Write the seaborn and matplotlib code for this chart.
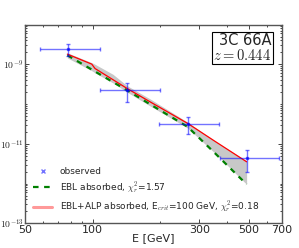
import numpy as np
import pandas as pd
import matplotlib
matplotlib.use("Agg")
from matplotlib import pyplot as plt
from matplotlib.lines import Line2D
import seaborn as sns

# punti osservati (E in GeV, flusso)
e_obs = [77.4, 142.9, 266.0, 488.0]
e_lo = [58.2, 108.0, 198.6, 371.0]
e_hi = [108.0, 200.0, 368.0, 682.0]
f_obs = [2.36e-9, 2.23e-10, 3.13e-11, 4.45e-12]
f_lo = [1.60e-9, 1.14e-10, 1.72e-11, 1.94e-12]
f_hi = [3.20e-9, 3.30e-10, 4.60e-11, 6.95e-12]

# modelli
e_mod = [77.1, 99.1, 102.5, 123.3, 142.5, 180.5, 266.0, 352.0, 488.0]
f_alp = [1.80e-9, 1.01e-9, 7.83e-10, 4.10e-10, 2.47e-10, 1.14e-10, 3.26e-11, 1.16e-11, 3.53e-12]
f_ebl = [1.69e-9, 7.36e-10, 6.59e-10, 3.57e-10, 2.23e-10, 9.9e-11, 2.67e-11, 5.83e-12, 9.55e-13]
band_up = [1.95e-9, 1.10e-9, 1.0e-9, 5.6e-10, 2.9e-10, 1.35e-10, 3.5e-11, 1.17e-11, 3.7e-12]
band_lo = [1.45e-9, 6.9e-10, 6.1e-10, 3.4e-10, 2.0e-10, 9.0e-11, 2.5e-11, 5.83e-12, 9.55e-13]

sns.set_style("ticks")
plt.rcParams["mathtext.fontset"] = "cm"
plt.rcParams["font.family"] = ["DejaVu Sans"]

df = pd.DataFrame({"E": e_mod, "alp": f_alp, "ebl": f_ebl})

fig = plt.figure(figsize=(2.99, 2.48), dpi=100)
ax = fig.add_axes([0.0846, 0.0996, 0.8574, 0.8014])

ax.fill_between(e_mod, band_lo, band_up, color="#c8c8c8", lw=0, zorder=1)
sns.lineplot(data=df, x="E", y="alp", color="red", lw=0.9, ax=ax, zorder=3)
sns.lineplot(data=df, x="E", y="ebl", color="green", lw=1.6, ls=(0, (2.5, 2.5)), ax=ax, zorder=2)

xerr = [np.array(e_obs) - np.array(e_lo), np.array(e_hi) - np.array(e_obs)]
yerr = [np.array(f_obs) - np.array(f_lo), np.array(f_hi) - np.array(f_obs)]
ax.errorbar(e_obs, f_obs, xerr=xerr, yerr=yerr, fmt="s", ms=2, color="blue",
            alpha=0.55, elinewidth=1, capsize=1.5, zorder=4)

ax.set_xscale("log")
ax.set_yscale("log")
ax.set_xlim(50, 700)
ax.set_ylim(1e-13, 1e-8)

ax.set_xticks([50, 100, 300, 500, 700])
ax.set_xticklabels(["50", "100", "300", "500", "700"], fontsize=8)
ax.xaxis.set_minor_locator(matplotlib.ticker.FixedLocator([60, 70, 80, 90, 200, 400, 600]))
ax.xaxis.set_minor_formatter(matplotlib.ticker.NullFormatter())
ax.set_yticks([1e-13, 1e-11, 1e-9])
ax.set_yticklabels([r"$10^{-13}$", r"$10^{-11}$", r"$10^{-9}$"], fontsize=7)
ax.yaxis.set_minor_locator(matplotlib.ticker.LogLocator(base=10, subs=np.arange(1, 10), numticks=30))
ax.yaxis.set_minor_formatter(matplotlib.ticker.NullFormatter())
ax.tick_params(which="both", direction="in", top=True, right=True, width=0.6, pad=1)
ax.tick_params(which="major", length=3)
ax.tick_params(which="minor", length=1.5)
for s in ax.spines.values():
    s.set_linewidth(1.0)
    s.set_color("#555555")

ax.set_xlabel("E [GeV]", fontsize=8, labelpad=-1)
ax.set_ylabel("")

handles = [
    Line2D([], [], ls="none", marker="x", ms=3, color="blue", alpha=0.55),
    Line2D([], [], color="green", lw=1.6, ls=(0, (2.5, 2.5))),
    Line2D([], [], color="red", lw=2.2, alpha=0.4),
]
labels = [
    "observed",
    r"EBL absorbed, $\chi_r^2$=1.57",
    r"EBL+ALP absorbed, E$_{crit}$=100 GeV, $\chi_r^2$=0.18",
]
ax.legend(handles, labels, loc="lower left", bbox_to_anchor=(0.0, 0.0), frameon=False,
          fontsize=6.5, handlelength=2.1, handletextpad=0.8, labelspacing=0.45)

ax.text(0.96, 0.955, "3C 66A" + "\n" + r"$z = 0.444$", transform=ax.transAxes,
        ha="right", va="top", fontsize=10.5, linespacing=0.95,
        bbox=dict(boxstyle="square,pad=0.1", fc="white", ec="black", lw=0.8))

fig.savefig("out.png", dpi=100)
